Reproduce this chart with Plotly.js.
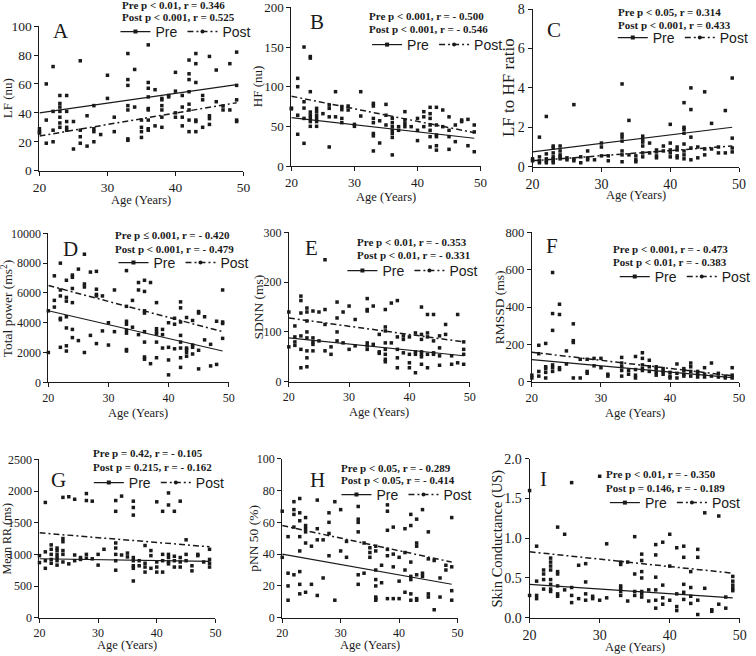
<!DOCTYPE html>
<html><head><meta charset="utf-8">
<script src="https://cdn.plot.ly/plotly-3.0.1.min.js"></script>
<style>html,body{margin:0;padding:0;background:#fff}#chart{width:756px;height:656px}</style>
</head><body><div id="chart"></div>
<script>
// Each row: [age, value, value, ...]
const A_pre = [[20,29],[21,60,35],[22,72,41],[23,52,46.5,44,41],[24,52,41],[25,34],[26,76],[27,38],[28,45],[30,66,50],[31,37],[33,81,63,59,45],[34,70],[35,35],[36,87,61,57,51,43],[37,56],[38,50,49,45],[39,52],[40,68,55],[41,52,44],[42,76.5,67,63,54.6],[43,81,74,61],[44,52],[45,79,38],[46,69.6],[47,44.7],[48,74],[49,82,59]];
const A_post = [[20,27,26],[21,19],[22,28,20],[23,37,33,30],[24,34,30,28],[25,15],[26,28,23.5,19],[27,17],[28,29,27,20],[29,25],[31,27],[33,42,22,21],[34,44],[35,30,27,23],[36,42,35,29,28],[37,31],[38,42,37,30],[39,51],[40,40,37],[41,37,31],[42,46,42,35,27],[43,35,34,27],[44,49,30],[45,36,32],[46,47.7],[47,42],[48,42],[49,49,35,34]];

const B_pre = [[20,72],[21,64,40],[22,73,60,28.6],[23,64,60,56,50],[24,60,56,50],[25,66],[26,62,24],[27,62],[28,60,54.6],[29,70.6],[30,50],[31,63],[33,54.6,41,38,19],[34,29],[35,51.7],[36,45,41,36,14],[37,45],[38,53.8,49.6],[40,45,32],[41,49.6],[42,51.7,45,37,24],[43,39,37,25.6,20],[44,49.6],[45,37,21],[46,30.7],[47,56],[48,25.6],[49,18]];
const B_post = [[20,73],[21,110.5,100],[22,150,81],[23,138,136,93.7,68],[24,72.7,68.5,64],[26,77,72.7],[27,93.7],[28,75,71],[29,75.6],[30,52.5],[31,93.7],[33,79,75.6,60],[34,57],[35,77.7,64],[36,60,54.6,49.6],[37,49.6],[38,68.5,58],[39,49.6],[40,60],[41,68.5,62],[42,74,66,60],[43,74,51.7],[44,70.6],[45,62,45],[46,51.7],[47,58],[48,58.8],[49,51.7,43]];

const C_pre = [[20,0.4],[21,1.5,0.5],[22,2.55,0.65],[23,1.05,0.95,0.7],[24,1.05,0.8],[25,0.45],[26,3.15],[27,0.5],[28,0.8],[30,1.2,1.0],[31,0.55],[33,4.2,1.65,1.5,1.3],[34,2.35],[35,0.55],[36,1.55,1.4,1.25],[37,1.2],[38,0.85,0.75],[39,1.05],[40,2.15,1.2],[41,1.0,0.85],[42,3.25,2.0,1.9,1.7],[43,4.0,2.9,1.5],[44,1.0],[45,3.8],[46,2.2],[47,1.0],[48,2.85],[49,4.5,1.45]];
const C_post = [[20,0.3],[21,0.3,0.2],[22,0.4,0.3,0.2],[23,0.5,0.4,0.3,0.2],[24,0.6,0.5,0.4],[25,0.35],[26,0.4,0.3],[27,0.2],[28,0.45,0.35],[29,0.35],[30,0.55],[31,0.3],[33,0.8,0.6,0.25],[34,0.6],[35,0.35,0.25],[36,1.05,0.7,0.5],[37,0.7],[38,0.55,0.45],[39,0.8],[40,0.85,0.7,0.5],[41,0.55,0.45],[42,1.15,0.8,0.6,0.4],[43,0.95,0.35],[44,0.45],[45,0.9,0.6],[46,0.9],[47,0.7],[48,0.7],[49,0.95,0.75]];

const D_pre = [[20,2000],[21,5050],[22,4300,4200,2350],[23,4400,3650,2450,2100],[24,5350,3550,3000],[25,2800],[26,6400,2000],[27,3150],[28,5800,2600],[29,3450],[30,2500],[31,3400],[33,3500,3300,2200,2100],[34,3700],[35,3200],[36,3400,2700,1700,1550],[37,1250],[38,3250,2700,1650],[39,3200,2300],[40,1500,500],[41,2250],[42,2700,2300,1650,1000],[43,2200,2000,1750],[44,2350,1900],[45,2150,900],[46,2850],[47,1100],[48,1200],[49,3950,2950]];
const D_post = [[20,4800],[21,7150,5500],[22,8000,6200,5800],[23,6850,5700,5450],[24,7200,7050,6300],[25,7600],[26,8600,6600],[27,7400],[28,7450,6250,5900],[29,5800],[30,4000],[31,6200],[33,7500,5100,4100,3900],[34,5500],[35,6700,6200],[36,6850,6100,4800,4650],[37,6700],[38,5350,3600,3400],[39,3550],[40,4000,2350],[41,4300,3900],[42,5400,5000,4050,3150],[43,4350,2300],[44,4150,2500],[45,4750,4650],[46,4400],[47,2550],[48,4100],[49,6200,4050]];

const E_pre = [[20,70],[21,80,73],[22,92,65,28],[23,88,62,48,30],[24,80,75,62],[25,82],[26,115,62],[27,55],[28,100,82],[29,78],[30,65],[31,72],[33,78,72,65],[34,75],[35,60,57],[36,65,55,45,40],[37,78],[38,65,48,28],[39,58],[40,38,28],[41,55,18],[42,60,55,50,35],[43,55,28],[44,58,55],[45,52,33],[46,95],[47,35],[48,38],[49,55,35]];
const E_post = [[20,140],[21,112,90],[22,172,163,138],[23,148,140,122,100],[24,142,88],[25,140],[26,245,145],[27,70],[28,160,128],[29,140],[30,152],[31,125],[33,167,145,142],[34,152],[35,95],[36,145,110,102,78],[37,158],[38,163,90],[39,92,85],[40,90,55],[41,98,60],[42,150,95,85],[43,135,98,90],[44,135,82],[45,92,68],[46,115],[47,52],[48,135],[49,80,65]];

const F_pre = [[20,20],[21,55,30],[22,70,50,20],[23,90,75,55],[24,75,65],[25,95],[26,210,20],[27,20],[28,55,45],[29,85],[30,75],[31,30],[33,80,60,30],[34,40],[35,35,20],[36,90,70,60],[37,80,55],[38,50,35],[39,55,40],[40,30,20],[41,45,20],[42,40,30],[43,55,30],[44,40,25],[45,40,25],[46,30],[47,25],[48,20],[49,35,20]];
const F_post = [[20,35],[21,195,150],[22,205,80],[23,585,365,275],[24,415,360],[25,165],[26,310,220],[27,120],[28,120],[29,125],[30,125],[31,40],[33,130,100],[34,60],[35,135,65],[36,155,125],[37,115],[38,80,70],[39,70],[40,50],[41,95],[42,70,60],[43,100,80],[44,55],[45,75],[46,100],[47,45],[48,30],[49,75]];

const G_pre = [[20,870],[21,900,780],[22,1000,920,860],[23,950,900,830],[24,1060,1000,880],[25,850],[26,990,900],[27,920],[28,1000,940],[29,930],[30,830],[33,1100,1000,900,750],[34,990],[35,960],[36,900,820,780,580],[37,820],[38,800,720],[39,980,780],[40,800,720],[41,900,720],[42,950,880,850],[43,900,800],[44,880,800],[45,900],[46,740],[47,980],[48,880],[49,860,800]];
const G_post = [[20,980],[21,1820,1040],[22,1150,1080],[23,1100,1060,1000],[24,1900,1250,1200],[25,1910],[26,1870],[27,950],[28,1960,1850],[29,1840],[30,1000],[31,1080],[33,1850,1680,1180],[34,1920],[35,1020],[36,1840,1740,1620,950],[37,900],[38,1140,860],[39,1060],[40,1830,880],[41,1680,1000],[42,1970,1780,1000],[43,1680,970],[44,1840,950],[45,1230,1000],[46,820],[47,1000],[49,1080,920]];

const H_pre = [[20,38],[21,20,11],[22,57,27],[23,42,29,21,15],[24,54,47,16],[25,21],[26,49,14],[27,25],[28,53,39],[29,11],[30,42],[31,38],[33,54,27,21],[34,28],[35,38],[36,20,13,12,11],[37,22],[38,43,39,12],[39,32,12],[40,23,12],[41,30,16],[42,26,24,15,11],[43,27,12,11],[44,28,26],[45,15,13],[46,5],[47,13],[48,30],[49,17,11]];
const H_post = [[20,67],[21,51,28],[22,73,68,65],[23,75,66,61,51],[24,63,58,56],[25,45],[26,74,56],[27,49],[28,66,60],[29,73],[30,68],[31,48],[33,70,62,60],[34,47],[35,44,41],[36,45,42,30,24],[37,33],[38,71,67,55],[39,57,40],[40,38],[41,56,41],[42,65,58,35],[43,62,47,45],[44,68],[45,54,37],[46,36],[47,25],[48,33],[49,63,32]];

const I_pre = [[20,0.28],[21,0.28,0.24],[22,0.48,0.36],[23,0.48,0.42,0.36,0.33],[24,0.4,0.3,0.27],[25,0.35],[26,0.28,0.19],[27,0.24],[28,0.3,0.22],[29,0.24],[30,0.22],[31,0.25],[33,0.37,0.33,0.28],[34,0.21],[35,0.33,0.28],[36,0.33,0.3,0.26],[37,0.21],[38,0.35,0.22,0.12],[39,0.25,0.17],[40,0.22],[41,0.14,0.09],[42,0.42,0.32,0.23],[43,0.27,0.18],[44,0.22,0.04],[45,0.37],[46,0.08],[47,0.17],[48,0.12],[49,0.37,0.34]];
const I_post = [[20,1.6],[21,0.9,0.46],[22,0.6,0.55],[23,0.75,0.7,0.65,0.6],[24,1.14,0.58,0.55],[25,1.05],[26,1.7,0.38],[27,0.66],[28,0.68,0.45],[29,0.27],[30,1.78],[31,0.93],[33,0.7,0.67,0.4],[34,0.7],[35,1.02,0.55],[36,0.8,0.72,0.58,0.5],[37,0.35],[38,0.92,0.79,0.51],[39,0.95,0.41],[40,1.05,0.65],[41,0.88,0.3],[42,0.9,0.76],[43,0.58,0.38],[44,0.86,0.76],[45,1.32],[46,0.1],[47,1.28],[48,0.26],[49,0.52,0.46,0.41]];

// Regression lines: values at the first and last age
const FIT_AGES = [20, 49];
const A_fitPre = [40, 59.5],   A_fitPost = [24, 47];
const B_fitPre = [61, 35],     B_fitPost = [88, 42];
const C_fitPre = [0.75, 2.0],  C_fitPost = [0.3, 1.05];
const D_fitPre = [4800, 2100], D_fitPost = [6500, 3400];
const E_fitPre = [88, 52],     E_fitPost = [128, 80];
const F_fitPre = [118, 22],    F_fitPost = [158, 32];
const G_fitPre = [930, 890],   G_fitPost = [1340, 1120];
const H_fitPre = [40, 21],     H_fitPost = [58, 35];
const I_fitPre = [0.42, 0.25], I_fitPost = [0.83, 0.56];

const LETTERS = ['A','B','C','D','E','F','G','H','I'];
const Y_TITLES = ['LF (nu)','HF (nu)','LF to HF ratio','Total power (ms<sup>2</sup>)','SDNN (ms)','RMSSD (ms)','Mean RR (ms)','pNN 50 (%)','Skin Conductance (US)'];
const X_TITLE = 'Age (Years)';
const X_TICKS = [20, 30, 40, 50];
// y tick values of each panel
const A_yt = [0, 20, 40, 60, 80, 100];
const B_yt = [0, 50, 100, 150, 200];
const C_yt = [0, 2, 4, 6, 8];
const D_yt = [0, 2000, 4000, 6000, 8000, 10000];
const E_yt = [0, 100, 200, 300];
const F_yt = [0, 200, 400, 600, 800];
const G_yt = [0, 500, 1000, 1500, 2000, 2500];
const H_yt = [0, 20, 40, 60, 80, 100];
const I_yt = [0, 0.5, 1.0, 1.5, 2.0];
const I_ytText = ['0.0', '0.5', '1.0', '1.5', '2.0'];
const Y_TICKS = [A_yt, B_yt, C_yt, D_yt, E_yt, F_yt, G_yt, H_yt, I_yt];
const STATS_PRE = ['Pre p < 0.01, r = 0.346','Pre p < 0.001, r = - 0.500','Pre p < 0.05, r = 0.314','Pre p ≤ 0.001, r = - 0.420','Pre p < 0.01, r = - 0.353','Pre p < 0.001, r = - 0.473','Pre p = 0.42, r = - 0.105','Pre p < 0.05, r = - 0.289','Pre p < 0.01, r = - 0.350'];
const STATS_POST = ['Post p < 0.001, r = 0.525','Post p < 0.001, r = - 0.546','Post p < 0.001, r = 0.433','Post p < 0.001, r = - 0.479','Post p < 0.01, r = - 0.331','Post p < 0.01, r = - 0.383','Post p = 0.215, r = - 0.162','Post p < 0.05, r = - 0.414','Post p = 0.146, r = - 0.189'];
const SERIES_NAMES = ['Pre', 'Post'];

const PRE = [A_pre,B_pre,C_pre,D_pre,E_pre,F_pre,G_pre,H_pre,I_pre];
const POST = [A_post,B_post,C_post,D_post,E_post,F_post,G_post,H_post,I_post];
const FIT_PRE = [A_fitPre,B_fitPre,C_fitPre,D_fitPre,E_fitPre,F_fitPre,G_fitPre,H_fitPre,I_fitPre];
const FIT_POST = [A_fitPost,B_fitPost,C_fitPost,D_fitPost,E_fitPost,F_fitPost,G_fitPost,H_fitPost,I_fitPost];

// ---------- layout geometry (pixels) ----------
const W = 756, H = 656;
// [xLeft, xRight, yTop, yBottom] of each plot area
const BOX = [
  [40, 246.7, 26, 170.7],[295.3, 487, 7.3, 166],[539.7, 749, 9, 166.7],
  [49, 231.7, 233.3, 382.3],[292.7, 476, 232.3, 381.7],[539, 749, 232.3, 381.7],
  [40, 218.3, 459.3, 617.7],[286, 463.7, 458.7, 617.7],[536.7, 749.7, 458.7, 617.7]
];
const LETTER_POS = [[62,31],[321,22],[561,30],[71,249],[316,248],[559,246],[59,480],[322,480],[551,479]];
const STAT_POS = [[122,5,17],[372,16,29],[624,12,25],[115,235,249],[360,242,255],[619,249,262],[92,453,467],[344,468,480],[612,474,488]];
const LEG_POS = [[125,32],[380,45],[629,38],[123,263],[355,271],[631,277],[98,483],[349,495],[621,503]];
const YTITLE_X = [7, 261, 516, 7.5, 261, 506, 7, 257, 504];
const YTITLE_SIZE = [13, 13, 17, 13.5, 13.5, 13.5, 12, 13.5, 14.5];
const TICK_SIZE = [13.5, 13, 14, 12, 12, 12.5, 12, 12, 14];
const XTITLE_Y = [200, 197, 195, 413, 412, 413, 645, 645, 647];

const SERIF = 'Liberation Serif, Times New Roman, serif';
const SANS = 'Liberation Sans, Arial, sans-serif';
const INK = '#1a1a1a';

function expand(rows) {
  const x = [], y = [];
  rows.forEach(r => { for (let k = 1; k < r.length; k++) { x.push(r[0]); y.push(r[k]); } });
  return {x, y};
}
const px = v => v / W, py = v => 1 - v / H;

const data = [];
const layout = {
  width: W, height: H, margin: {l:0, r:0, t:0, b:0},
  paper_bgcolor: '#fff', plot_bgcolor: 'rgba(0,0,0,0)',
  showlegend: true, annotations: []
};

for (let i = 0; i < 9; i++) {
  const s = i === 0 ? '' : String(i + 1);
  const xa = 'x' + s, ya = 'y' + s, lg = 'legend' + s;
  const pre = expand(PRE[i]), post = expand(POST[i]);
  const mk = {symbol: 'square', size: 3.5, color: INK};
  data.push({type:'scatter', mode:'markers', x: pre.x, y: pre.y, xaxis: xa, yaxis: ya, marker: mk, showlegend: false, cliponaxis: false, hoverinfo: 'skip'});
  data.push({type:'scatter', mode:'markers', x: post.x, y: post.y, xaxis: xa, yaxis: ya, marker: mk, showlegend: false, cliponaxis: false, hoverinfo: 'skip'});
  data.push({type:'scatter', mode:'lines', x: FIT_AGES, y: FIT_PRE[i], xaxis: xa, yaxis: ya, line: {color: INK, width: 1.1}, showlegend: false, hoverinfo: 'skip'});
  data.push({type:'scatter', mode:'lines', x: FIT_AGES, y: FIT_POST[i], xaxis: xa, yaxis: ya, line: {color: INK, width: 1.5, dash: '6px,3px,2px,3px'}, showlegend: false, hoverinfo: 'skip'});
  // legend entries
  data.push({type:'scatter', mode:'lines+markers', x:[null], y:[null], xaxis: xa, yaxis: ya, name: SERIES_NAMES[0], legend: lg,
    line: {color: INK, width: 1.2}, marker: {symbol:'square', size: 4, color: INK}});
  data.push({type:'scatter', mode:'lines+markers', x:[null], y:[null], xaxis: xa, yaxis: ya, name: SERIES_NAMES[1], legend: lg,
    line: {color: INK, width: 1.5, dash: '6px,3px,2px,3px'}, marker: {symbol:'circle', size: 4, color: INK}});

  const b = BOX[i];
  const tf = {family: SERIF, size: TICK_SIZE[i], color: INK};
  const yt = Y_TICKS[i];
  layout['xaxis' + s] = {
    domain: [px(b[0]), px(b[1])], anchor: ya, range: [20, 50], tickmode: 'array', tickvals: X_TICKS,
    ticks: 'outside', ticklen: 4, tickwidth: 1, tickcolor: INK, showline: true, linecolor: INK, linewidth: 1,
    showgrid: false, zeroline: false, tickfont: tf, automargin: false, ticklabeloverflow: 'allow'
  };
  layout['yaxis' + s] = {
    domain: [py(b[3]), py(b[2])], anchor: xa, range: [0, yt[yt.length - 1] * 1.0005], tickmode: 'array', tickvals: yt,
    ticktext: i === 8 ? I_ytText : yt.map(String),
    ticks: 'outside', ticklen: 4, tickwidth: 1, tickcolor: INK, showline: true, linecolor: INK, linewidth: 1,
    showgrid: false, zeroline: false, tickfont: tf, automargin: false, ticklabeloverflow: 'allow'
  };
  const L = LEG_POS[i];
  layout[lg] = {
    x: px(L[0] - 8), y: py(L[1]), xanchor: 'left', yanchor: 'middle', orientation: 'h',
    bgcolor: 'rgba(0,0,0,0)', borderwidth: 0, itemwidth: 30,
    font: {family: SANS, size: 14, color: INK}, traceorder: 'normal'
  };
  // axis titles
  layout.annotations.push({xref:'paper', yref:'paper', x: px(YTITLE_X[i]), y: py((b[2] + b[3]) / 2), text: Y_TITLES[i],
    textangle: -90, showarrow: false, xanchor: 'center', yanchor: 'middle', font: {family: SERIF, size: YTITLE_SIZE[i], color: INK}});
  layout.annotations.push({xref:'paper', yref:'paper', x: px((b[0] + b[1]) / 2), y: py(XTITLE_Y[i]), text: X_TITLE,
    showarrow: false, xanchor: 'center', yanchor: 'middle', font: {family: SERIF, size: 12.5, color: INK}});
  const lp = LETTER_POS[i];
  layout.annotations.push({xref:'paper', yref:'paper', x: px(lp[0]), y: py(lp[1]), text: LETTERS[i], showarrow: false,
    xanchor: 'center', yanchor: 'middle', font: {family: SERIF, size: 21, color: INK}});
  const sp = STAT_POS[i];
  layout.annotations.push({xref:'paper', yref:'paper', x: px(sp[0]), y: py(sp[1]), text: '<b>' + STATS_PRE[i] + '</b>', showarrow: false,
    xanchor: 'left', yanchor: 'middle', font: {family: SERIF, size: 11, color: INK}});
  layout.annotations.push({xref:'paper', yref:'paper', x: px(sp[0]), y: py(sp[2]), text: '<b>' + STATS_POST[i] + '</b>', showarrow: false,
    xanchor: 'left', yanchor: 'middle', font: {family: SERIF, size: 11, color: INK}});
}

Plotly.newPlot('chart', data, layout, {staticPlot: true});
</script>
</body></html>
